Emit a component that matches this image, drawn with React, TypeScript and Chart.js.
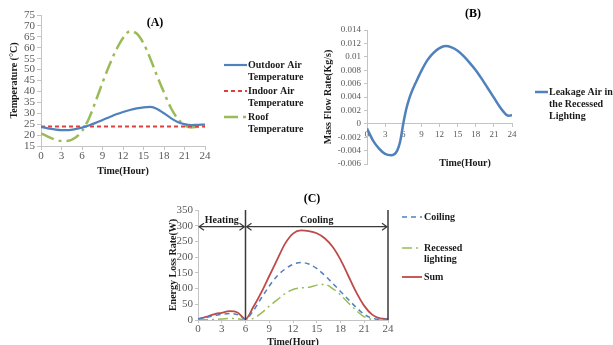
import React, { useEffect, useRef } from "react";
import { Chart, registerables } from "chart.js";

Chart.register(...registerables);

// ---------- DATA ----------
const hours = [0, 1, 2, 3, 4, 5, 6, 7, 8, 9, 10, 11, 12, 13, 14, 15, 16, 17, 18, 19, 20, 21, 22, 23, 24];
const outdoorTemp = [23.8, 23.1, 22.6, 22.3, 22.3, 22.7, 23.4, 24.4, 25.6, 26.9, 28.2, 29.5, 30.6, 31.5, 32.2, 32.7, 32.9, 32.0, 30.0, 27.8, 26.0, 25.0, 24.6, 24.7, 24.8];
const indoorTemp = [23.9, 23.9, 23.9, 23.9, 23.9, 23.9, 23.9, 23.9, 23.9, 23.9, 23.9, 23.9, 23.9, 23.9, 23.9, 23.9, 23.9, 23.9, 23.9, 23.9, 23.9, 23.9, 23.9, 23.9, 23.9];
const roofTemp = [20.8, 19.3, 18.0, 17.3, 17.4, 18.8, 21.8, 27.5, 35.5, 44.0, 52.0, 59.0, 64.5, 67.5, 66.5, 62.0, 55.0, 47.0, 39.5, 32.5, 27.5, 24.5, 23.5, 23.8, 24.0];

const flowHours = [0, 1, 2, 3, 4, 5, 5.5, 6, 6.5, 7, 7.5, 8, 9, 10, 11, 12, 13, 14, 15, 16, 17, 18, 19, 20, 21, 22, 23, 23.5, 24];
const flowRate = [-0.0007, -0.0025, -0.0037, -0.0045, -0.0047, -0.004, -0.0026, 0.0, 0.0022, 0.0038, 0.005, 0.006, 0.0079, 0.0095, 0.0106, 0.0113, 0.0116, 0.0114, 0.0109, 0.0101, 0.0091, 0.008, 0.0067, 0.0053, 0.0039, 0.0025, 0.0014, 0.0012, 0.0013];

const coilingLoss = [3, 8, 13, 18, 21, 17, 3, 30, 70, 108, 140, 162, 177, 183, 178, 164, 142, 117, 91, 65, 40, 18, 6, 2, 2];
const lightingLoss = [0, 1, 2, 3, 5, 4, 0, 5, 22, 44, 64, 84, 97, 102, 104, 111, 113, 100, 80, 54, 30, 10, 2, 0, 0];
const sumLoss = [3, 10, 18, 23, 28, 24, 3, 42, 88, 140, 192, 243, 275, 285, 283, 276, 260, 233, 192, 140, 88, 45, 17, 5, 3];

const phaseBounds = [0, 6, 24];
const phaseLabels = ["Heating", "Cooling"];
const phaseArrowLevel = 297;

const legendA = [["Outdoor Air", "Temperature"], ["Indoor Air", "Temperature"], ["Roof", "Temperature"]];
const legendB = [["Leakage Air in", "the Recessed", "Lighting"]];
const legendC = [["Coiling"], ["Recessed", "lighting"], ["Sum"]];

// ---------- STYLE ----------
const SERIF = '"Liberation Serif", "Times New Roman", serif';
const AXIS = "#c4c4c4";
const TICK = "#595959";
const TEXT = "#1a1a1a";
const BLUE = "#4f81bd";
const RED = "#e0403c";
const GREEN = "#9bbb59";
const MAROON = "#be4b48";

const pts = (xs: number[], ys: number[]) => xs.map((x, i) => ({ x, y: ys[i] }));

const overlayPlugin = {
  id: "overlay",
  afterDraw(chart: any, _args: any, opts: any) {
    const ctx = chart.ctx as CanvasRenderingContext2D;
    ctx.save();
    if (opts.phases) {
      const { bounds, labels, level } = opts.phases;
      const xs = chart.scales.x;
      const ys = chart.scales.y;
      const yTop = ys.getPixelForValue(ys.max);
      const yBot = ys.getPixelForValue(0);
      const ay = ys.getPixelForValue(level);
      ctx.strokeStyle = "#3a3a3a";
      ctx.lineWidth = 1.5;
      bounds.slice(1).forEach((b: number) => {
        const px = xs.getPixelForValue(b);
        ctx.beginPath();
        ctx.moveTo(px, yTop);
        ctx.lineTo(px, yBot);
        ctx.stroke();
      });
      ctx.lineWidth = 1.2;
      for (let i = 0; i < labels.length; i++) {
        const x0 = xs.getPixelForValue(bounds[i]) + 1;
        const x1 = xs.getPixelForValue(bounds[i + 1]) - 1;
        ctx.beginPath();
        ctx.moveTo(x0, ay);
        ctx.lineTo(x1, ay);
        ctx.moveTo(x0 + 5, ay - 3.5);
        ctx.lineTo(x0, ay);
        ctx.lineTo(x0 + 5, ay + 3.5);
        ctx.moveTo(x1 - 5, ay - 3.5);
        ctx.lineTo(x1, ay);
        ctx.lineTo(x1 - 5, ay + 3.5);
        ctx.stroke();
        ctx.fillStyle = TEXT;
        ctx.font = `bold 10px ${SERIF}`;
        ctx.textAlign = "center";
        ctx.textBaseline = "bottom";
        ctx.fillText(labels[i], (x0 + x1) / 2, ay - 1);
      }
    }
    if (opts.label) {
      ctx.fillStyle = "#000";
      ctx.font = `bold 12px ${SERIF}`;
      ctx.textAlign = "center";
      ctx.textBaseline = "middle";
      ctx.fillText(opts.label.text, opts.label.x, opts.label.y);
    }
    (opts.texts || []).forEach((t: any) => {
      ctx.fillStyle = TEXT;
      ctx.font = `bold ${t.size}px ${SERIF}`;
      ctx.textAlign = "center";
      ctx.textBaseline = "middle";
      ctx.fillText(t.text, t.x, t.y);
    });
    if (opts.legend) {
      const { x, lineLen, gap, lineHeight, ys, items, size } = opts.legend;
      items.forEach((lines: string[], i: number) => {
        const ds = chart.data.datasets[i];
        const cy = ys[i];
        ctx.strokeStyle = ds.borderColor;
        ctx.lineWidth = ds.borderWidth;
        ctx.setLineDash(ds.borderDash || []);
        ctx.beginPath();
        ctx.moveTo(x, cy);
        ctx.lineTo(x + lineLen, cy);
        ctx.stroke();
        ctx.setLineDash([]);
        ctx.fillStyle = TEXT;
        ctx.font = `bold ${size}px ${SERIF}`;
        ctx.textAlign = "left";
        ctx.textBaseline = "middle";
        lines.forEach((ln, j) => ctx.fillText(ln, x + lineLen + gap, cy + j * lineHeight));
      });
    }
    ctx.restore();
  },
};

const grid = (tl: number) => ({ display: true, drawOnChartArea: false, drawTicks: true, tickLength: tl, color: AXIS });

const configA: any = {
  type: "line",
  data: {
    datasets: [
      { label: "Outdoor Air Temperature", data: pts(hours, outdoorTemp), borderColor: BLUE, borderWidth: 2.2, pointRadius: 0, cubicInterpolationMode: "monotone" },
      { label: "Indoor Air Temperature", data: pts(hours, indoorTemp), borderColor: RED, borderWidth: 2, borderDash: [4, 3], pointRadius: 0 },
      { label: "Roof Temperature", data: pts(hours, roofTemp), borderColor: GREEN, borderWidth: 2.5, borderDash: [14, 5, 3, 5], pointRadius: 0, cubicInterpolationMode: "monotone" },
    ],
  },
  options: {
    responsive: false,
    animation: false,
    layout: { padding: { left: 0, top: 15, right: 105, bottom: 0 } },
    scales: {
      x: {
        type: "linear", min: 0, max: 24,
        ticks: { stepSize: 3, autoSkip: false, font: { family: SERIF, size: 11 }, color: TICK, padding: 0, maxRotation: 0 },
        grid: grid(4), border: { color: AXIS },
        title: { display: true, text: "Time(Hour)", font: { family: SERIF, size: 10, weight: "bold" }, color: TEXT, padding: { top: 0, bottom: 3 } },
        afterFit(s: any) { s.height = 34; },
      },
      y: {
        min: 15, max: 75,
        ticks: { stepSize: 5, autoSkip: false, font: { family: SERIF, size: 11 }, color: TICK, padding: 2 },
        grid: grid(4), border: { color: AXIS },
        title: { display: true, text: "Temperature (°C)", font: { family: SERIF, size: 10, weight: "bold" }, color: TEXT, padding: { top: 8, bottom: 0 } },
        afterFit(s: any) { s.width = 41; },
      },
    },
    plugins: {
      legend: { display: false },
      tooltip: { enabled: false },
      overlay: {
        label: { text: "(A)", x: 155, y: 23 },
        legend: { x: 224, lineLen: 23, gap: 1, lineHeight: 12, ys: [65, 91, 117], items: legendA, size: 10 },
      },
    },
  },
  plugins: [overlayPlugin],
};

const configB: any = {
  type: "line",
  data: {
    datasets: [
      { label: "Leakage Air in the Recessed Lighting", data: pts(flowHours, flowRate), borderColor: BLUE, borderWidth: 2.5, pointRadius: 0, cubicInterpolationMode: "monotone" },
    ],
  },
  options: {
    responsive: false,
    animation: false,
    layout: { padding: { left: 0, top: 30, right: 101, bottom: 14 } },
    scales: {
      x: {
        type: "linear", min: 0, max: 24, position: { y: 0 },
        ticks: { stepSize: 3, autoSkip: false, font: { family: SERIF, size: 9 }, color: TICK, padding: 2, maxRotation: 0 },
        grid: grid(3), border: { color: AXIS },
      },
      y: {
        min: -0.006, max: 0.014,
        ticks: {
          stepSize: 0.002, autoSkip: false, font: { family: SERIF, size: 9 }, color: TICK, padding: 3,
          callback: (v: number) => String(Number(v.toFixed(3))),
        },
        grid: grid(3), border: { color: AXIS },
        title: { display: true, text: "Mass Flow Rate(Kg/s)", font: { family: SERIF, size: 10, weight: "bold" }, color: TEXT, padding: { top: 22, bottom: 0 } },
        afterFit(s: any) { s.width = 67; },
      },
    },
    plugins: {
      legend: { display: false },
      tooltip: { enabled: false },
      overlay: {
        label: { text: "(B)", x: 173, y: 14 },
        texts: [{ text: "Time(Hour)", x: 165, y: 163, size: 10 }],
        legend: { x: 235, lineLen: 13, gap: 1, lineHeight: 12, ys: [92], items: legendB, size: 10 },
      },
    },
  },
  plugins: [overlayPlugin],
};

const configC: any = {
  type: "line",
  data: {
    datasets: [
      { label: "Coiling", data: pts(hours, coilingLoss), borderColor: BLUE, borderWidth: 1.5, borderDash: [5, 4], pointRadius: 0, cubicInterpolationMode: "monotone" },
      { label: "Recessed lighting", data: pts(hours, lightingLoss), borderColor: GREEN, borderWidth: 1.5, borderDash: [10, 4, 2, 4], pointRadius: 0, cubicInterpolationMode: "monotone" },
      { label: "Sum", data: pts(hours, sumLoss), borderColor: MAROON, borderWidth: 1.8, pointRadius: 0, cubicInterpolationMode: "monotone" },
    ],
  },
  options: {
    responsive: false,
    animation: false,
    layout: { padding: { left: 0, top: 30, right: 82, bottom: 0 } },
    scales: {
      x: {
        type: "linear", min: 0, max: 24,
        ticks: { stepSize: 3, autoSkip: false, font: { family: SERIF, size: 11 }, color: TICK, padding: 0, maxRotation: 0 },
        grid: grid(3), border: { color: AXIS },
        title: { display: true, text: "Time(Hour)", font: { family: SERIF, size: 10, weight: "bold" }, color: TEXT, padding: { top: 0, bottom: 2 } },
        afterFit(s: any) { s.height = 30; },
      },
      y: {
        min: 0, max: 350,
        ticks: { stepSize: 50, autoSkip: false, font: { family: SERIF, size: 11 }, color: TICK, padding: 2 },
        grid: grid(3), border: { color: AXIS },
        title: { display: true, text: "Energy Loss Rate(W)", font: { family: SERIF, size: 10, weight: "bold" }, color: TEXT, padding: { top: 17, bottom: 0 } },
        afterFit(s: any) { s.width = 48; },
      },
    },
    plugins: {
      legend: { display: false },
      tooltip: { enabled: false },
      overlay: {
        label: { text: "(C)", x: 162, y: 19 },
        phases: { bounds: phaseBounds, labels: phaseLabels, level: phaseArrowLevel },
        legend: { x: 252, lineLen: 20, gap: 2, lineHeight: 11, ys: [37, 68, 97], items: legendC, size: 10 },
      },
    },
  },
  plugins: [overlayPlugin],
};

function ChartBox({ config, left, top, width, height }: any) {
  const ref = useRef<HTMLCanvasElement>(null);
  useEffect(() => {
    const chart = new Chart(ref.current as HTMLCanvasElement, config);
    return () => chart.destroy();
  }, []);
  return (
    <canvas
      ref={ref}
      width={width}
      height={height}
      style={{ position: "absolute", left, top, width, height }}
    />
  );
}

export default function App() {
  return (
    <div
      style={{
        position: "fixed",
        left: 0,
        top: 0,
        width: 613,
        height: 345,
        overflow: "hidden",
        background: "#ffffff",
      }}
    >
      <ChartBox config={configA} left={0} top={0} width={310} height={180} />
      <ChartBox config={configB} left={300} top={0} width={313} height={178} />
      <ChartBox config={configC} left={150} top={180} width={320} height={170} />
    </div>
  );
}
